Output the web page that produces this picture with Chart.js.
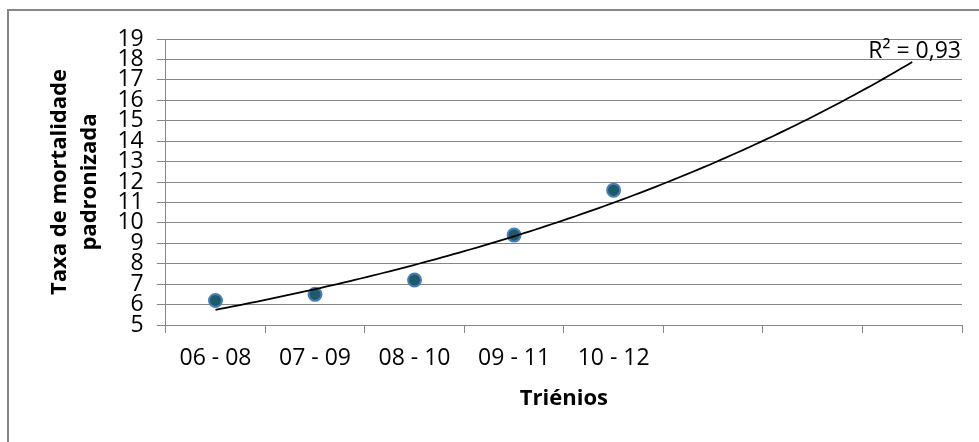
<!DOCTYPE html>
<html><head><meta charset="utf-8">
<script src="https://cdn.jsdelivr.net/npm/chart.js@4.4.0/dist/chart.umd.min.js"></script>
<style>html,body{margin:0;padding:0;background:#fff}#wrap{width:979px;height:442px;position:relative}</style>
</head><body><div id="wrap"><canvas id="c"></canvas></div>
<script>
// ---- data ----
const categories = ['06 - 08', '07 - 09', '08 - 10', '09 - 11', '10 - 12'];
const emptySlots = ['', '', ''];            // axis continues 3 periods (trend forecast)
const rates = [6.2, 6.5, 7.2, 9.4, 11.6];  // Taxa de mortalidade padronizada
const yMin = 5, yMax = 19, yStep = 1;
const forecastPeriods = 3;
const xTitle = 'Triénios';
const yTitle = ['Taxa de mortalidade', 'padronizada'];

// ---- exponential trendline (least squares on ln y, like Excel) ----
const xs = rates.map((_, i) => i + 0.5);
const n = xs.length;
const lnY = rates.map(v => Math.log(v));
const mx = xs.reduce((a, b) => a + b, 0) / n;
const my = lnY.reduce((a, b) => a + b, 0) / n;
let sxy = 0, sxx = 0;
xs.forEach((x, i) => { sxy += (x - mx) * (lnY[i] - my); sxx += (x - mx) ** 2; });
const bCoef = sxy / sxx, lnA = my - bCoef * mx;
let ssRes = 0, ssTot = 0;
xs.forEach((x, i) => { ssRes += (lnY[i] - (lnA + bCoef * x)) ** 2; ssTot += (lnY[i] - my) ** 2; });
const r2 = 1 - ssRes / ssTot;
const trendStart = xs[0], trendEnd = xs[n - 1] + forecastPeriods;
const trend = [];
const steps = 120;
for (let k = 0; k <= steps; k++) {
  const x = trendStart + (trendEnd - trendStart) * k / steps;
  trend.push({ x, y: Math.exp(lnA + bCoef * x) });
}
const allLabels = categories.concat(emptySlots);

const FONT = "'Open Sans', 'DejaVu Sans', sans-serif";
const GRID = '#868686';

const frame = {
  id: 'frame',
  beforeDraw(chart) {
    const ctx = chart.ctx;
    ctx.save();
    ctx.strokeStyle = GRID;
    ctx.lineWidth = 2;
    ctx.strokeRect(8, 10, 3000, 3000);
    ctx.restore();
  },
  afterDraw(chart) {
    const ctx = chart.ctx;
    const xS = chart.scales.x, yS = chart.scales.y;
    ctx.save();
    ctx.fillStyle = '#000';
    ctx.font = "23px " + FONT;
    ctx.textAlign = 'right';
    ctx.textBaseline = 'alphabetic';
    ctx.fillText('R² = ' + r2.toFixed(2).replace('.', ','), xS.getPixelForValue(allLabels.length) - 1, yS.getPixelForValue(18.08));
    ctx.restore();
  }
};

new Chart(document.getElementById('c'), {
  data: {
    datasets: [
      { type: 'line', label: 'trend', data: trend, xAxisID: 'x', yAxisID: 'y',
        borderColor: '#000', borderWidth: 1.75, pointRadius: 0, tension: 0, fill: false, order: 0 },
      { type: 'scatter', label: 'Taxa', data: rates.map((v, i) => ({ x: xs[i], y: v })), xAxisID: 'x', yAxisID: 'y',
        pointRadius: 6.5, pointHoverRadius: 6.5, pointBorderWidth: 2,
        pointBackgroundColor: '#1f5a6b', pointBorderColor: '#4a7ebb', order: 1 }
    ]
  },
  options: {
    responsive: true, maintainAspectRatio: false, animation: false,
    layout: { padding: { left: 41, top: 39, right: 17, bottom: 30 } },
    plugins: { legend: { display: false }, tooltip: { enabled: false } },
    scales: {
      x: { type: 'linear', min: 0, max: allLabels.length, display: false },
      xc: {
        type: 'category', labels: allLabels, position: 'bottom', offset: true,
        grid: { display: true, offset: true, drawOnChartArea: false, drawTicks: true, tickLength: 8, color: GRID, lineWidth: 1 },
        border: { display: true, color: GRID, width: 1 },
        ticks: { color: '#000', font: { family: FONT, size: 23 }, padding: 12, maxRotation: 0, autoSkip: false },
        title: { display: true, text: xTitle, color: '#000', font: { family: FONT, size: 22, weight: 'bold' }, padding: { top: 1, bottom: 0 } }
      },
      y: {
        type: 'linear', min: yMin, max: yMax,
        ticks: { stepSize: yStep, autoSkip: false, color: '#000', font: { family: FONT, size: 23 }, padding: 13 },
        grid: { color: GRID, lineWidth: 1, tickLength: 9, drawTicks: true },
        border: { display: true, color: GRID, width: 1 },
        title: { display: true, text: yTitle, color: '#000', font: { family: FONT, size: 22, weight: 'bold', lineHeight: 1.35 }, padding: { top: 4, bottom: 0 } }
      }
    }
  },
  plugins: [frame]
});
</script>
</body></html>
